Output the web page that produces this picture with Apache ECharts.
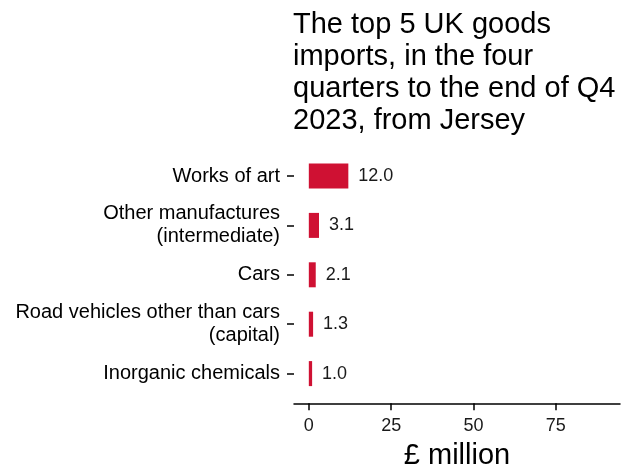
<!DOCTYPE html>
<html>
<head>
<meta charset="utf-8">
<script src="https://cdn.jsdelivr.net/npm/echarts@6/dist/echarts.min.js"></script>
<style>
html,body{margin:0;padding:0;background:#fff;}
#chart{width:627px;height:467px;}
</style>
</head>
<body>
<div id="chart"></div>
<script>
var categories = ["Works of art", "Other manufactures\n(intermediate)", "Cars", "Road vehicles other than cars\n(capital)", "Inorganic chemicals"];
var values = [12.0, 3.1, 2.1, 1.3, 1.0];
var xTicks = [0, 25, 50, 75];
var titleText = "The top 5 UK goods\nimports, in the four\nquarters to the end of Q4\n2023, from Jersey";
var axisName = "£ million";

var chart = echarts.init(document.getElementById('chart'), null, {renderer: 'canvas'});
chart.setOption({
  backgroundColor: '#ffffff',
  animation: false,
  textStyle: {fontFamily: 'Liberation Sans, Arial, sans-serif'},
  title: {
    text: titleText,
    left: 293,
    top: 9,
    padding: 0,
    textStyle: {fontSize: 29, lineHeight: 32, fontWeight: 'normal', color: '#000', fontFamily: 'Liberation Sans'}
  },
  grid: {left: 294, right: 7, top: 151.3, height: 247, containLabel: false, outerBoundsMode: 'none'},
  xAxis: {
    type: 'value',
    min: -4.5,
    max: 94.5,
    offset: 5,
    name: axisName,
    nameLocation: 'middle',
    nameGap: 38,
    nameTextStyle: {fontSize: 29, color: '#000', fontFamily: 'Liberation Sans'},
    axisLine: {show: true, onZero: false, lineStyle: {color: '#000', width: 1.5}},
    axisTick: {show: true, length: 7, lineStyle: {color: '#000', width: 1.5}, customValues: xTicks},
    axisLabel: {fontSize: 18, color: '#1a1a1a', margin: 14, customValues: xTicks, fontFamily: 'Liberation Sans'},
    splitLine: {show: false}
  },
  yAxis: {
    type: 'category',
    data: categories,
    inverse: true,
    axisLine: {show: false, onZero: false},
    axisTick: {show: true, alignWithLabel: true, length: 7, lineStyle: {color: '#000', width: 1.5}},
    axisLabel: {fontSize: 20, lineHeight: 23, color: '#000', margin: 14, align: 'right', fontFamily: 'Liberation Sans'},
    splitLine: {show: false}
  },
  series: [{
    type: 'bar',
    data: values,
    barWidth: 25,
    itemStyle: {color: '#cf1133'},
    label: {
      show: true,
      position: 'right',
      distance: 10,
      fontSize: 18,
      color: '#1a1a1a',
      fontFamily: 'Liberation Sans',
      formatter: function (p) { return p.value.toFixed(1); }
    }
  }]
});
</script>
</body>
</html>
